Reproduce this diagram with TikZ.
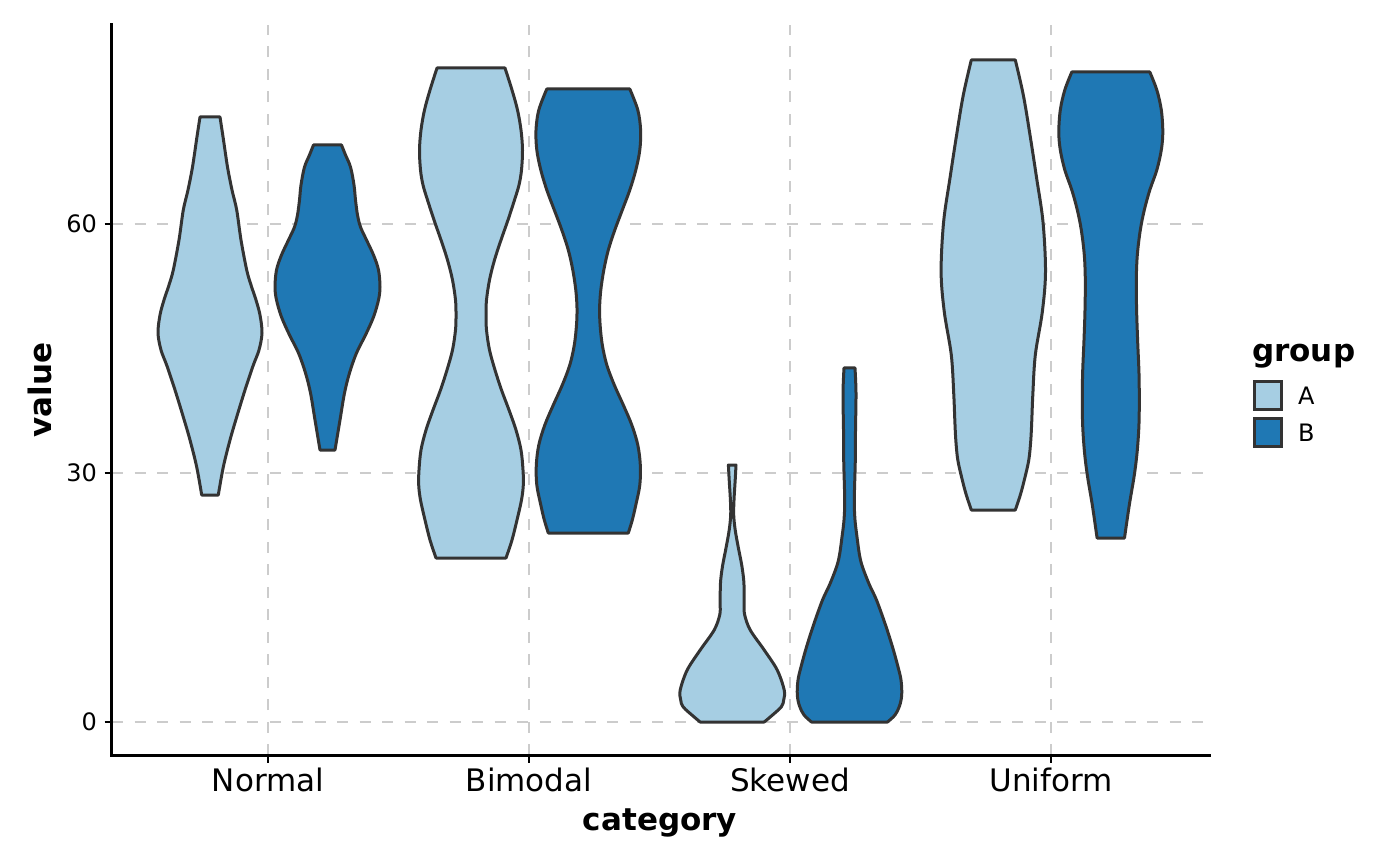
\documentclass[tikz,border=0pt]{standalone}
\usepackage{fontspec}
\setmainfont{DejaVu Sans}
\definecolor{colA}{HTML}{A6CEE3}
\definecolor{colB}{HTML}{1F78B4}
\definecolor{outl}{HTML}{333333}
\definecolor{gridc}{HTML}{CCCCCC}
\tikzset{
  violinA/.style={fill=colA,draw=outl,line width=3pt,line join=round},
  violinB/.style={fill=colB,draw=outl,line width=3pt,line join=round},
  gridline/.style={draw=gridc,line width=2.2pt,dash pattern=on 11pt off 11.5pt},
  axisline/.style={draw=black,line width=3pt},
  tickmark/.style={draw=black,line width=2.8pt},
  ticklab/.style={font=\fontsize{24}{28}\selectfont,inner sep=0pt},
  catlab/.style={font=\fontsize{31}{36}\selectfont,inner sep=0pt},
  axtitle/.style={font=\fontsize{31}{36}\selectfont\bfseries,inner sep=0pt},
  legkey/.style={draw=outl,line width=3pt},
  leglab/.style={font=\fontsize{24}{28}\selectfont,inner sep=0pt,anchor=west}
}
\newcommand\myviolin[3]{%
  \gdef\rightpts{}\gdef\leftpts{}%
  \foreach \yy/\ww in {#3} {%
    \pgfmathsetmacro\xr{#1+\ww}\pgfmathsetmacro\xl{#1-\ww}%
    \xdef\rightpts{\rightpts (\xr,\yy)}%
    \xdef\leftpts{(\xl,\yy) \leftpts}%
  }%
  \edef\tmpcmd{\noexpand\path[#2] plot[smooth,tension=0.55] coordinates {\rightpts} -- plot[smooth,tension=0.55] coordinates {\leftpts} -- cycle;}%
  \tmpcmd
}
\begin{document}
\begin{tikzpicture}[x=1pt,y=-1pt]
\useasboundingbox (0,0) rectangle (1400,866);
% grid
\foreach \gy in {722,473,224} \draw[gridline] (112,\gy) -- (1208,\gy);
\foreach \gx in {268,529,790,1051} \draw[gridline] (\gx,755) -- (\gx,25);
% violins
\myviolin{210}{violinA}{117/10, 140/13.5, 167/17.5, 190/22, 210/26.7, 240/31, 270/36.7, 285/41, 300/46, 315/50, 333/52, 350/49, 366/43, 390/35, 417/26.7, 440/20, 467/13.3, 495/8.3}
\myviolin{327.5}{violinB}{145/14, 155/18, 167/23, 185/26.5, 200/28, 215/30, 227/33, 240/39, 255/46, 270/51, 287/52.5, 300/51, 317/46, 335/38, 353/29, 373/22, 393/17, 420/12.5, 450/7.5}
\myviolin{471}{violinA}{68/34, 90/41, 110/46.5, 130/50, 150/51.5, 170/50.5, 185/48, 200/43.5, 220/37, 240/30, 260/23.5, 280/18.5, 300/15.5, 315/15, 330/15.5, 350/18.5, 370/24, 390/30.5, 410/38, 430/45, 450/50, 470/52, 485/52.3, 500/50.5, 520/46, 540/41, 558/35}
\myviolin{588.3}{violinB}{89/41.5, 110/49.5, 130/52.3, 150/51.5, 170/47.5, 190/41.5, 210/34, 230/26.5, 250/20, 270/15.5, 290/12.5, 308/11.3, 325/11.8, 345/14, 365/18.5, 385/26, 405/35, 425/43.5, 445/49.5, 465/52, 485/51.5, 505/47.5, 520/44, 533/40}
\myviolin{732.2}{violinA}{465/3.8, 480/3, 500/1.8, 515/1.5, 530/3, 547/6, 565/9.5, 580/11.5, 593/12, 605/12, 615/12.5, 630/18, 650/32, 670/45, 690/52, 700/51.5, 707/49, 717/38, 722/32}
\myviolin{849.5}{violinB}{368/5.5, 393/6.5, 430/6, 460/5.8, 500/4.8, 520/5.5, 537/7.5, 555/10, 567/13, 585/20, 600/27, 625/36, 647/43, 665/48, 680/51.5, 695/52.2, 706/50, 715/45.5, 722/38}
\myviolin{993.3}{violinA}{60/22, 95/30, 135/36.7, 178/43.3, 222/49.7, 272/52.2, 312/49, 355/42, 395/39.5, 420/38.5, 440/37.5, 460/35.5, 480/31, 495/27, 510/22}
\myviolin{1110.8}{violinB}{72/39, 90/46, 110/50.5, 132/52, 150/50.5, 170/46, 190/39, 210/33.5, 230/29.5, 255/26.5, 280/25.5, 310/25.8, 340/26.8, 378/28.3, 420/28.3, 450/26.5, 475/23.5, 505/18.5, 538/13.7}
% axes
\coordinate (ytop) at (111.5,25);
\coordinate (orig) at (111.5,755);
\coordinate (xend) at (1209,755);
\draw[axisline,line cap=rect] (ytop) -- (orig) -- (xend);
% y ticks
\foreach \gy/\lab in {722/0,473/30,224/60} {
  \draw[tickmark] (104.5,\gy) -- (111.5,\gy);
  \node[ticklab,anchor=east] (yt\lab) at (97,\gy) {\lab};
}
% x ticks
\foreach \gx/\lab in {268/Normal,529/Bimodal,790/Skewed,1051/Uniform} {
  \draw[tickmark] (\gx,755) -- (\gx,763);
  \node[catlab,anchor=base] (xt\lab) at (\gx,791) {\lab};
}
% axis titles
\node[axtitle,anchor=base] (xtitle) at (660,830) {category};
\node[axtitle,anchor=base,rotate=90] (ytitle) at (51,390) {value};
% legend
\node[axtitle,anchor=base west] (legtitle) at (1252,362) {group};
\draw[legkey,fill=colA] (1254.5,381.5) rectangle (1281.5,409);
\draw[legkey,fill=colB] (1254.5,418.5) rectangle (1281.5,446);
\node[leglab] (legA) at (1298,396) {A};
\node[leglab] (legB) at (1298,433) {B};
\end{tikzpicture}
\end{document}
